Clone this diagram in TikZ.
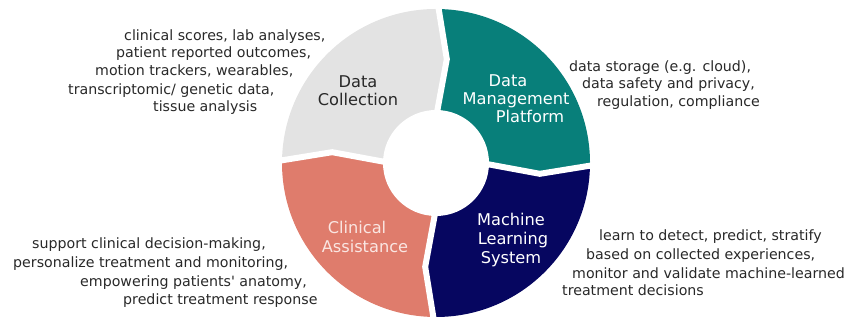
\documentclass[tikz,border=0pt]{standalone}
\usepackage{fontspec}
\setmainfont{DejaVu Sans}[Ligatures=TeXOff]
\usetikzlibrary{calc}
\definecolor{cgray}{RGB}{227,227,227}
\definecolor{cteal}{RGB}{8,127,122}
\definecolor{cnavy}{RGB}{6,6,96}
\definecolor{csalmon}{RGB}{223,124,108}
\definecolor{csaltext}{RGB}{250,230,226}
\definecolor{ctext}{RGB}{40,40,40}
\begin{document}
\begin{tikzpicture}[x=1pt,y=1pt,
  desc/.style={font=\fontsize{14.2}{17.7}\selectfont, text=ctext, anchor=base west, inner sep=0pt},
  seglabel/.style={font=\fontsize{16.2}{18}\selectfont, anchor=base, inner sep=0pt},
  gapline/.style={white, line width=6pt, line join=miter, line cap=rect}]
\useasboundingbox (0,0) rectangle (851,320);
\coordinate (C) at (436,157);
\foreach \n/\ang in {T/89,R/-1,B/269,L/179} {
  \coordinate (I\n) at ($(C)+(\ang:50pt)$);
  \coordinate (P\n) at ($(C)+(\ang:104pt)+(\ang-90:9pt)$);
  \coordinate (O\n) at ($(C)+(\ang:154pt)$);
}
% segments
\fill[cgray] (C) -- (IT) -- (PT) -- (OT) arc[start angle=89, end angle=179, radius=154pt] -- (PL) -- (IL) -- cycle;
\fill[cteal] (C) -- (IR) -- (PR) -- (OR) arc[start angle=-1, end angle=89, radius=154pt] -- (PT) -- (IT) -- cycle;
\fill[cnavy] (C) -- (IB) -- (PB) -- (OB) arc[start angle=269, end angle=359, radius=154pt] -- (PR) -- (IR) -- cycle;
\fill[csalmon] (C) -- (IL) -- (PL) -- (OL) arc[start angle=179, end angle=269, radius=154pt] -- (PB) -- (IB) -- cycle;
% gaps
\foreach \n in {T,R,B,L} {
  \draw[gapline] (I\n) -- (P\n) -- (O\n);
}
\fill[white] (C) circle[radius=53pt];
% segment labels
\node[seglabel, text=ctext] (dc1) at (358,232) {Data};
\node[seglabel, text=ctext] (dc2) at (358,214) {Collection};
\node[seglabel, text=white] (dm1) at (508,233) {Data};
\node[seglabel, text=white] (dm2) at (516,215) {Management};
\node[seglabel, text=white] (dm3) at (530,197) {Platform};
\node[seglabel, text=white] (ml1) at (511,94) {Machine};
\node[seglabel, text=white] (ml2) at (513,75) {Learning};
\node[seglabel, text=white] (ml3) at (511,56) {System};
\node[seglabel, text=csaltext] (ca1) at (357,86) {Clinical};
\node[seglabel, text=csaltext] (ca2) at (365,67) {Assistance};
% descriptions
\node[desc] (t1) at (124,279) {clinical scores, lab analyses,};
\node[desc] (t2) at (116,262) {patient reported outcomes,};
\node[desc] (t3) at (95,244) {motion trackers, wearables,};
\node[desc] (t4) at (68,225) {transcriptomic/ genetic data,};
\node[desc] (t5) at (153,208) {tissue analysis};
\node[desc] (r1) at (569,248) {data storage (e.g. cloud),};
\node[desc] (r2) at (582,231) {data safety and privacy,};
\node[desc] (r3) at (597,213) {regulation, compliance};
\node[desc] (b1) at (32,71) {support clinical decision-making,};
\node[desc] (b2) at (13,52) {personalize treatment and monitoring,};
\node[desc] (b3) at (80,33) {empowering patients' anatomy,};
\node[desc] (b4) at (123,15) {predict treatment response};
\node[desc] (m1) at (599,79) {learn to detect, predict, stratify};
\node[desc] (m2) at (586,60) {based on collected experiences,};
\node[desc] (m3) at (572,41) {monitor and validate machine-learned};
\node[desc] (m4) at (562,24) {treatment decisions};
\end{tikzpicture}
\end{document}
